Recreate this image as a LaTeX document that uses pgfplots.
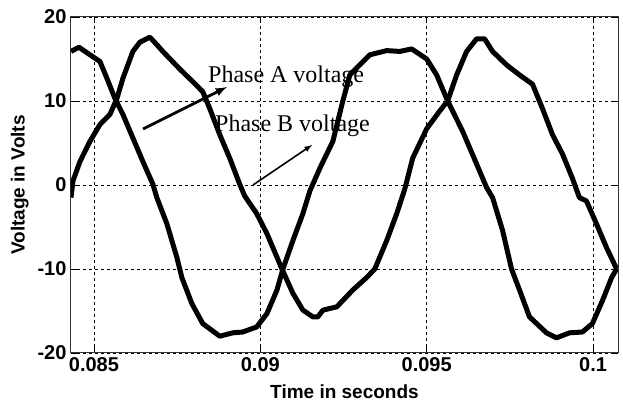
\documentclass[border=0pt]{standalone}
\usepackage{fontspec}
\setmainfont{Liberation Serif}
\setsansfont{Liberation Sans}
\usepackage{pgfplots}
\pgfplotsset{compat=1.18}
\pgfplotstableread{
x y
0.08431 15.9
0.08455 16.4
0.08488 15.5
0.08518 14.7
0.08539 12.7
0.08563 10.3
0.08587 8.4
0.08617 5.6
0.08647 2.8
0.08677 0.1
0.08689 -1.5
0.08719 -4.6
0.08749 -8.6
0.08764 -11
0.08794 -14.1
0.08827 -16.5
0.08878 -18
0.08917 -17.6
0.08947 -17.5
0.08989 -16.9
0.09020 -15.3
0.09050 -12.5
0.09068 -10
0.09098 -6.6
0.09128 -3.4
0.09149 -0.7
0.09179 2
0.09218 5.2
0.09248 10
0.09269 13.1
0.09299 14.3
0.09329 15.5
0.09380 16
0.09419 15.9
0.09455 16.2
0.09500 15.0
0.09530 13.1
0.09563 10
0.09608 6.4
0.09650 2.5
0.09680 -0.3
0.09698 -1.5
0.09728 -5.4
0.09755 -10
0.09779 -12.5
0.09809 -15.7
0.09860 -17.6
0.09890 -18.2
0.09929 -17.6
0.09968 -17.5
0.09998 -16.5
0.10029 -13.7
0.10056 -11
0.10071 -10
}\phaseA
\pgfplotstableread{
x y
0.08431 -1.5
0.08437 0.5
0.08458 2.8
0.08488 5.2
0.08518 7.2
0.08548 8.4
0.08569 10.3
0.08587 12.7
0.08617 15.9
0.08638 17
0.08668 17.6
0.08689 16.7
0.08707 15.9
0.08758 13.8
0.08797 12.3
0.08827 11.1
0.08848 9.1
0.08878 6
0.08908 3.2
0.08938 0.1
0.08953 -1.3
0.08989 -3.4
0.09020 -5.8
0.09065 -10
0.09098 -12.9
0.09128 -14.9
0.09158 -15.7
0.09173 -15.7
0.09188 -14.9
0.09230 -14.5
0.09278 -12.5
0.09320 -11
0.09344 -10
0.09380 -6.6
0.09410 -3.4
0.09434 -0.5
0.09458 3.2
0.09500 6.7
0.09539 8.8
0.09563 10
0.09590 13.1
0.09620 15.9
0.09650 17.4
0.09674 17.4
0.09698 15.9
0.09740 14.3
0.09779 13.1
0.09818 12
0.09848 9.1
0.09878 6
0.09908 3.7
0.09938 0.8
0.09959 -1.5
0.09980 -1.9
0.10010 -4.6
0.10041 -7.5
0.10071 -10
}\phaseB
\begin{document}
\begin{tikzpicture}
\begin{axis}[
  scale only axis,
  width=547pt, height=336pt,
  xmin=0.08431, xmax=0.10075,
  ymin=-20, ymax=20,
  xtick={0.085,0.09,0.095,0.1},
  xticklabels={0.085,0.09,0.095,0.1},
  ytick={-20,-10,0,10,20},
  yticklabels={-20,-10,0,10,20},
  tick label style={font=\sffamily\bfseries\fontsize{20}{20}\selectfont},
  xticklabel style={yshift=-1pt},
  yticklabel style={xshift=-1pt},
  grid=major,
  major grid style={black, line width=0.8pt, dash pattern=on 3pt off 3pt},
  tick align=inside,
  major tick length=6pt,
  tick style={black, line width=0.8pt},
  axis line style={black!80, line width=1pt},
  xlabel={Time in seconds},
  ylabel={Voltage in Volts},
  label style={font=\sffamily\bfseries\fontsize{19}{19}\selectfont},
  xlabel style={yshift=-6pt},
  ylabel style={yshift=2pt},
  scaled x ticks=false,
]
\addplot[black, line width=5pt, line join=round] table[x=x,y=y] {\phaseA};
\addplot[black, line width=5pt, line join=round] table[x=x,y=y] {\phaseB};
\end{axis}
\node[anchor=base west, inner sep=0pt, font=\fontsize{24}{24}\selectfont] at (137pt,270pt) {Phase A voltage};
\node[anchor=base west, inner sep=0pt, font=\fontsize{24}{24}\selectfont] at (144pt,221pt) {Phase B voltage};
\draw[-latex, line width=2.8pt] (72pt,224pt) -- (156pt,266pt);
\draw[-latex, line width=1.6pt] (182pt,168pt) -- (241pt,208pt);
\path[use as bounding box] (-71pt,-50pt) rectangle (552pt,353pt);
\end{tikzpicture}
\end{document}
